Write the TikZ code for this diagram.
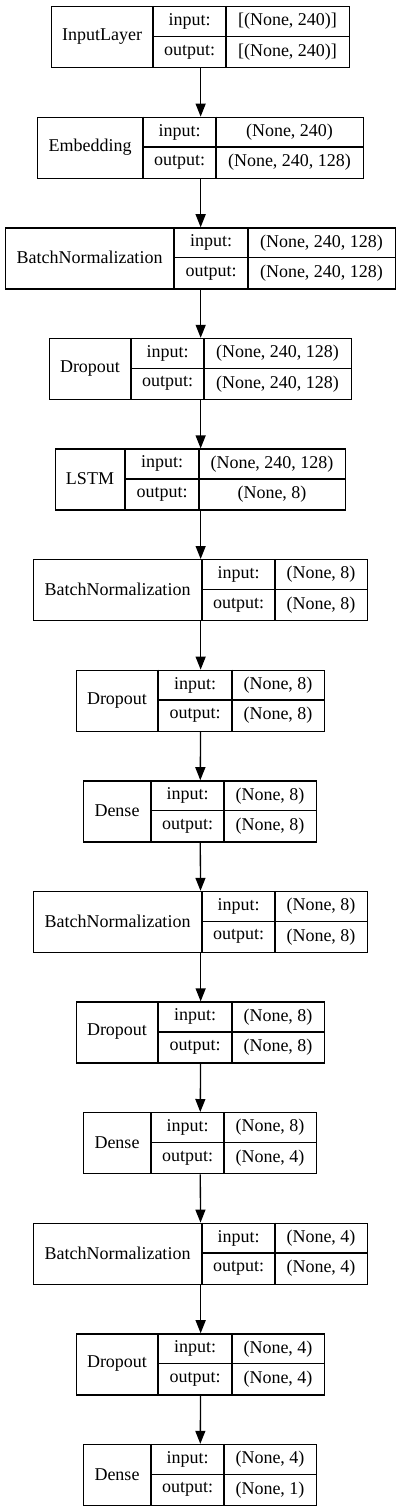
\documentclass[tikz,border=0pt]{standalone}
\usepackage{fontspec}
\setmainfont{Liberation Serif}
\usetikzlibrary{arrows.meta}
\tikzset{
  layerbox/.style={draw, line width=1.3pt, anchor=north west, inner sep=0pt, minimum height=61pt},
  celltext/.style={inner sep=0pt, font=\fontsize{18}{20}\selectfont},
  conn/.style={line width=1.3pt, -{Triangle[length=13pt,width=10pt]}}
}
% #1 name, #2 top, #3 left, #4/#5 inner lines, #6 right, #7 layer, #8 input, #9 output
\newcommand{\kerasrow}[9]{%
\node[layerbox, minimum width={(#6-#3)*1pt}] (#1) at (#3,#2) {};
\draw[line width=1.3pt] (#4,#2)--(#4,#2+61);
\draw[line width=1.3pt] (#5,#2)--(#5,#2+61);
\draw[line width=1.3pt] (#4,#2+30.5)--(#6,#2+30.5);
\node[celltext] (#1-name) at ({(#3+#4)/2},#2+30.5) {#7};
\node[celltext] (#1-inl) at ({(#4+#5)/2},#2+15.5) {input:};
\node[celltext] (#1-outl) at ({(#4+#5)/2},#2+46) {output:};
\node[celltext] (#1-in) at ({(#5+#6)/2},#2+15.5) {#8};
\node[celltext] (#1-out) at ({(#5+#6)/2},#2+46) {#9};
}
\begin{document}
\begin{tikzpicture}[x=1pt, y=-1pt]
\useasboundingbox (0,0) rectangle (400,1512);
\kerasrow{L1}{6}{51}{153}{226}{349}{InputLayer}{[(None, 240)]}{[(None, 240)]}
\kerasrow{L2}{116.6}{37}{143}{216}{363}{Embedding}{(None, 240)}{(None, 240, 128)}
\kerasrow{L3}{227.2}{5}{174}{248}{395}{BatchNormalization}{(None, 240, 128)}{(None, 240, 128)}
\kerasrow{L4}{337.8}{49}{131}{204}{351}{Dropout}{(None, 240, 128)}{(None, 240, 128)}
\kerasrow{L5}{448.4}{55}{125}{199}{345}{LSTM}{(None, 240, 128)}{(None, 8)}
\kerasrow{L6}{559}{33}{202}{275}{367}{BatchNormalization}{(None, 8)}{(None, 8)}
\kerasrow{L7}{669.6}{76}{158}{232}{324}{Dropout}{(None, 8)}{(None, 8)}
\kerasrow{L8}{780.2}{83}{151}{224}{316}{Dense}{(None, 8)}{(None, 8)}
\kerasrow{L9}{890.8}{33}{202}{275}{367}{BatchNormalization}{(None, 8)}{(None, 8)}
\kerasrow{L10}{1001.4}{76}{158}{232}{324}{Dropout}{(None, 8)}{(None, 8)}
\kerasrow{L11}{1112}{83}{151}{224}{316}{Dense}{(None, 8)}{(None, 4)}
\kerasrow{L12}{1222.6}{33}{202}{275}{367}{BatchNormalization}{(None, 4)}{(None, 4)}
\kerasrow{L13}{1333.2}{76}{158}{232}{324}{Dropout}{(None, 4)}{(None, 4)}
\kerasrow{L14}{1443.8}{83}{151}{224}{316}{Dense}{(None, 4)}{(None, 1)}
%
\foreach \i [evaluate=\i as \j using int(\i+1)] in {1,...,13}
  \draw[conn] (L\i) -- (L\j);
\end{tikzpicture}
\end{document}
